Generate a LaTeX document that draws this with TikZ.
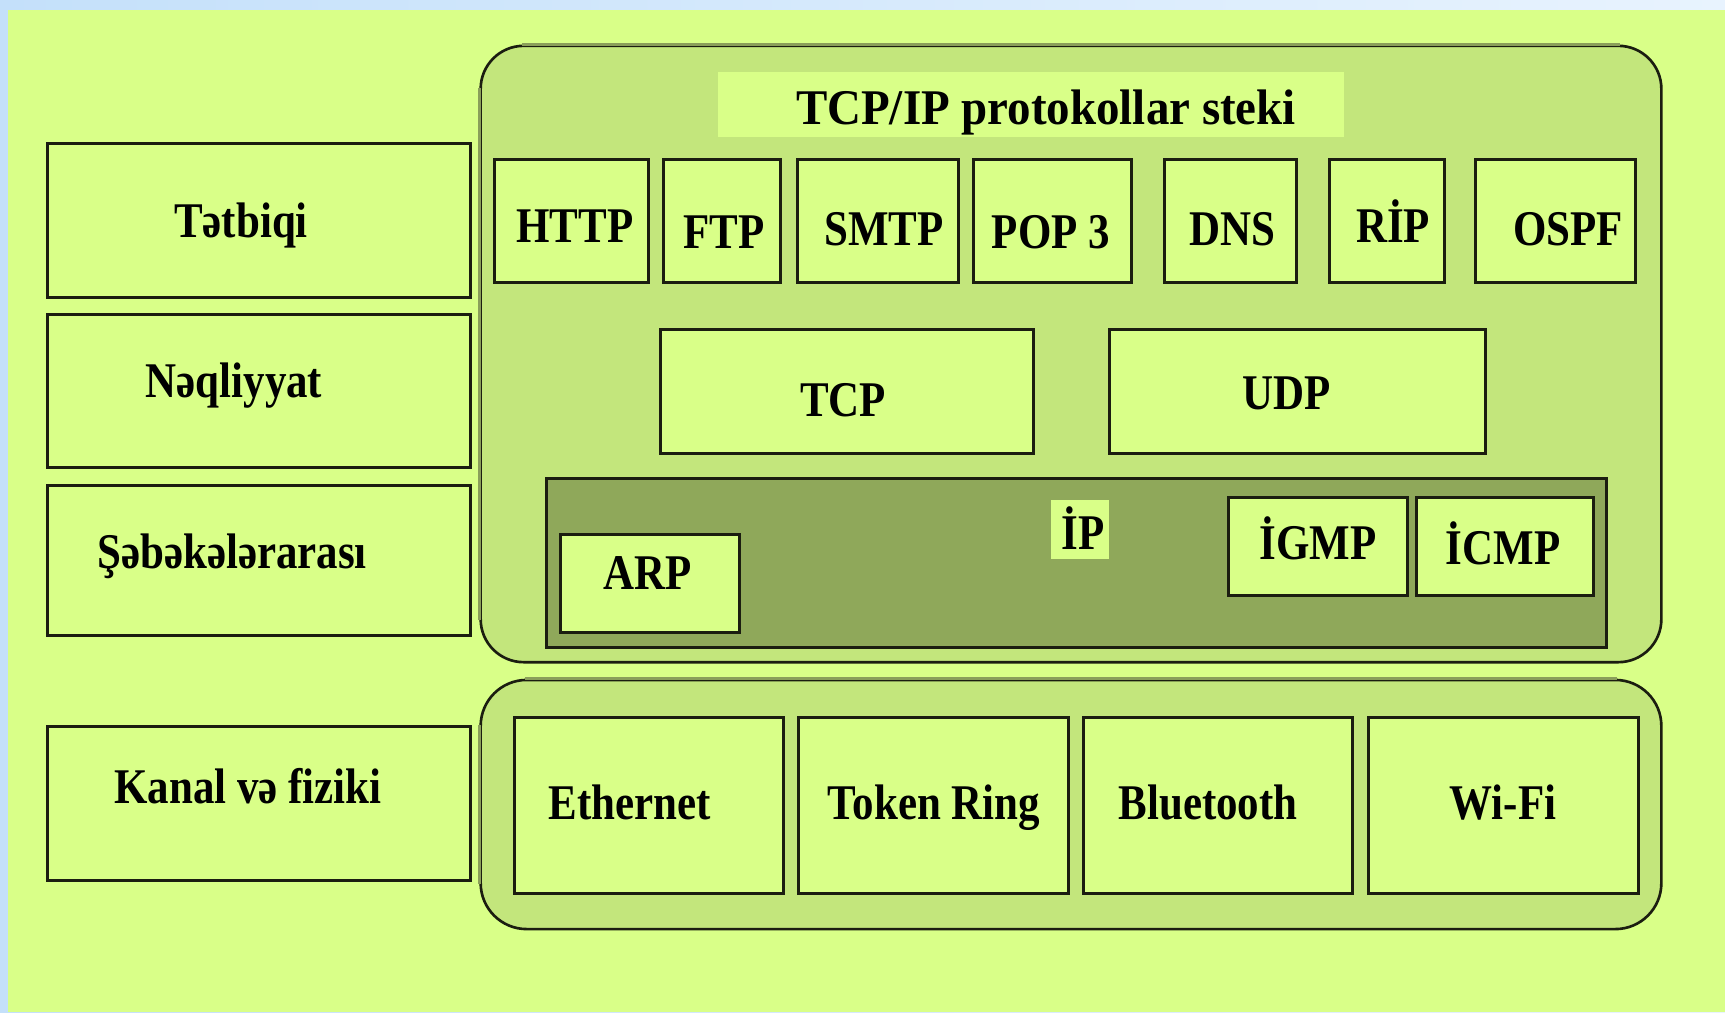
\documentclass[tikz,border=0pt]{standalone}
\usepackage{fontspec}
\setmainfont{Liberation Serif}[FakeStretch=0.86]
\newfontfamily\titlefont{Liberation Serif}[FakeStretch=0.94]

\definecolor{pagegreen}{RGB}{217,255,136}
\definecolor{stackgreen}{RGB}{195,230,124}
\definecolor{ipgreen}{RGB}{143,168,90}
\definecolor{edgedark}{RGB}{27,29,16}
\definecolor{edgelight}{RGB}{138,158,90}
\definecolor{skyblue}{RGB}{196,224,250}
\definecolor{skywhite}{RGB}{232,243,254}

\tikzset{proto/.style={draw=edgedark,line width=0.85pt,fill=pagegreen,rectangle,inner sep=0pt}}
\tikzstyle{lbl}=[anchor=base,inner sep=0pt,font=\bfseries\fontsize{14.2}{17}\selectfont]
\tikzstyle{stack}=[draw=edgedark,line width=0.75pt,fill=stackgreen,rectangle,inner sep=0pt]

\begin{document}
\begin{tikzpicture}[x=0.01cm,y=-0.01cm]
	\useasboundingbox (0,0) rectangle (1725,1012);
	\shade[left color=skyblue,right color=skywhite] (0,0) rectangle (1725,1012);
	\fill[pagegreen] (8,10) rectangle (1725,1012);
	
	% layer names
	\foreach \nm/\cy/\h/\tx/\ty/\txt in {app/220.5/1.53/241/237/Tətbiqi, trans/391/1.52/234/397/Nəqliyyat, inet/560.5/1.49/232/568/Şəbəkələrarası, link/803.5/1.53/248/803/{Kanal və fiziki}}{
		\node (L\nm)[proto,minimum width=4.22cm,minimum height=\h cm] at (259,\cy) {};
		\node (T\nm)[lbl] at (\tx,\ty) {\txt};
	}
	
	% the stack
	\node (stack)[stack,rounded corners=0.43cm,minimum width=11.80cm,minimum height=6.16cm] at (1071,354) {};
	\draw[edgelight,line width=0.75pt] ([xshift=0.43cm]stack.north west) -- ([xshift=-0.43cm]stack.north east);
	\draw[edgelight,line width=0.75pt] ([yshift=-0.43cm]stack.north west) -- ([yshift=0.43cm]stack.south west);
	
	\node (banner)[fill=pagegreen,inner sep=0pt,minimum width=6.26cm,minimum height=0.65cm] at (1031,104.5) {};
	\node (title)[lbl,font=\titlefont\bfseries\fontsize{14.2}{17}\selectfont] at (1046,124) {TCP/IP protokollar steki};
	
	\foreach \nm/\cx/\w/\tx/\ty/\txt in {http/571.5/1.53/575/242/HTTP, ftp/722/1.16/724/248/FTP, smtp/878/1.60/884/245/SMTP, pop/1052.5/1.57/1051/248/{POP 3}, dns/1230.5/1.31/1232/245/DNS, rip/1387/1.14/1393/242/RİP, ospf/1555.5/1.59/1568/245/OSPF}{
		\node (B\nm)[proto,minimum width=\w cm,minimum height=1.22cm] at (\cx,221) {};
		\node (T\nm)[lbl] at (\tx,\ty) {\txt};
	}
	
	\node (Btcp)[proto,minimum width=3.72cm,minimum height=1.23cm] at (847,391.5) {};
	\node (Ttcp)[lbl] at (843,416) {TCP};
	\node (Budp)[proto,minimum width=3.75cm,minimum height=1.23cm] at (1297.5,391.5) {};
	\node (Tudp)[lbl] at (1287,409) {UDP};
	
	% internet layer
	\node (Bip)[proto,fill=ipgreen,minimum width=10.59cm,minimum height=1.68cm] at (1076.5,563) {};
	\node (ipbg)[fill=pagegreen,inner sep=0pt,minimum width=0.58cm,minimum height=0.59cm] at (1080,529.5) {};
	\node (Tip)[lbl] at (1083,549) {İP};
	\foreach \nm/\cx/\cy/\w/\tx/\ty/\txt in {arp/650/583.5/1.78/648/589/ARP, igmp/1318/546.5/1.78/1318/559/İGMP, icmp/1505/546.5/1.76/1503/564/İCMP}{
		\node (B\nm)[proto,minimum width=\w cm,minimum height=0.97cm] at (\cx,\cy) {};
		\node (T\nm)[lbl] at (\tx,\ty) {\txt};
	}
	
	% link layer
	\node (net)[stack,rounded corners=0.46cm,minimum width=11.80cm,minimum height=2.49cm] at (1071,804.5) {};
	\draw[edgelight,line width=0.75pt] ([xshift=0.46cm]net.north west) -- ([xshift=-0.46cm]net.north east);
	\draw[edgelight,line width=0.75pt] ([yshift=-0.46cm]net.north west) -- ([yshift=0.46cm]net.south west);
	\foreach \nm/\cx/\tx/\txt in {eth/649/630/Ethernet, tok/933.5/934/{Token Ring}, blue/1218/1208/Bluetooth, wifi/1503.5/1503/Wi-Fi}{
		\node (B\nm)[proto,minimum width=2.69cm,minimum height=1.75cm] at (\cx,805.5) {};
		\node (T\nm)[lbl] at (\tx,819) {\txt};
	}
\end{tikzpicture}
\end{document}
